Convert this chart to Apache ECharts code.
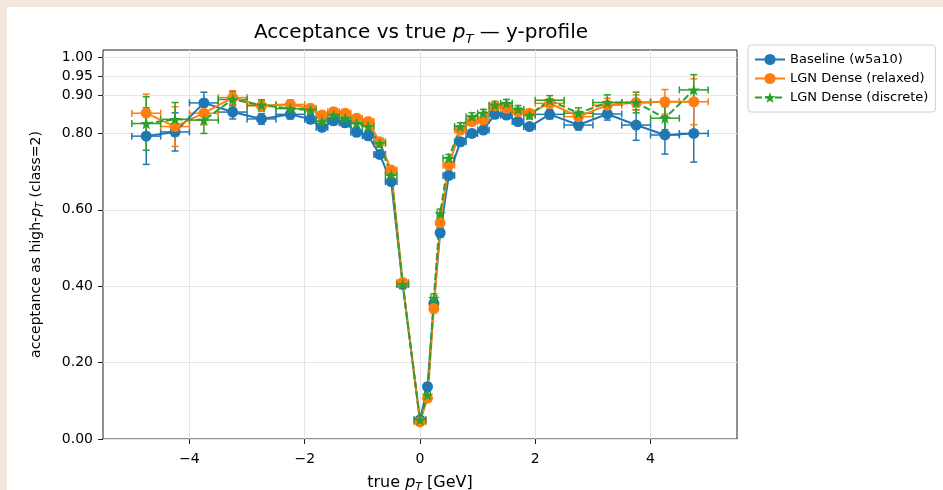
<!DOCTYPE html>
<html>
<head>
<meta charset="utf-8">
<script src="https://cdn.jsdelivr.net/npm/echarts@6/dist/echarts.min.js"></script>
<style>
html,body{margin:0;padding:0;background:#fff;}
#c{width:943px;height:490px;}
</style>
</head>
<body>
<div id="c"></div>
<script>
// ---- data ----
const xCenters = [-4.75,-4.25,-3.75,-3.25,-2.75,-2.25,-1.9,-1.7,-1.5,-1.3,-1.1,-0.9,-0.7,-0.5,-0.3,0.0,0.13,0.24,0.35,0.5,0.7,0.9,1.1,1.3,1.5,1.7,1.9,2.25,2.75,3.25,3.75,4.25,4.75];
const xErr = [0.25,0.25,0.25,0.25,0.25,0.25,0.1,0.1,0.1,0.1,0.1,0.1,0.1,0.1,0.1,0.1,0.05,0.05,0.05,0.1,0.1,0.1,0.1,0.1,0.1,0.1,0.1,0.25,0.25,0.25,0.25,0.25,0.25];

const baselineY = [0.793,0.804,0.880,0.856,0.838,0.850,0.837,0.816,0.833,0.828,0.803,0.794,0.745,0.674,0.405,0.050,0.137,0.355,0.540,0.690,0.778,0.800,0.809,0.850,0.848,0.831,0.818,0.850,0.822,0.851,0.822,0.796,0.800];
const baselineErr = [0.074,0.050,0.028,0.018,0.014,0.012,0.010,0.010,0.010,0.010,0.010,0.010,0.010,0.010,0.010,0.008,0.010,0.012,0.012,0.010,0.010,0.010,0.010,0.010,0.010,0.010,0.010,0.012,0.013,0.016,0.040,0.050,0.075];

const relaxedY = [0.853,0.818,0.853,0.894,0.872,0.876,0.866,0.848,0.857,0.853,0.840,0.831,0.778,0.704,0.410,0.045,0.107,0.342,0.566,0.717,0.809,0.831,0.835,0.872,0.866,0.857,0.853,0.879,0.844,0.874,0.881,0.883,0.883];
const relaxedErr = [0.050,0.052,0.030,0.018,0.014,0.012,0.010,0.010,0.010,0.010,0.010,0.010,0.010,0.010,0.010,0.008,0.010,0.012,0.012,0.010,0.010,0.010,0.010,0.010,0.010,0.010,0.010,0.012,0.014,0.018,0.020,0.032,0.060];

const discreteY = [0.826,0.837,0.835,0.889,0.874,0.865,0.861,0.831,0.848,0.840,0.826,0.818,0.774,0.691,0.405,0.050,0.115,0.368,0.590,0.735,0.818,0.844,0.853,0.874,0.879,0.863,0.848,0.887,0.853,0.881,0.881,0.840,0.914];
const discreteErr = [0.070,0.044,0.035,0.020,0.014,0.012,0.010,0.010,0.010,0.010,0.010,0.010,0.010,0.010,0.010,0.008,0.010,0.012,0.012,0.010,0.010,0.010,0.010,0.010,0.010,0.010,0.010,0.012,0.014,0.020,0.027,0.030,0.040];

const yTicks = [0, 0.2, 0.4, 0.6, 0.8, 0.9, 0.95, 1.0];
const xTicks = [-4, -2, 0, 2, 4];
const seriesNames = ['Baseline (w5a10)', 'LGN Dense (relaxed)', 'LGN Dense (discrete)'];

// ---- styles ----
const colors = ['#1f77b4', '#ff7f0e', '#2ca02c'];
const starPath = 'path://M0,-10 L2.35,-3.24 L9.51,-3.09 L3.80,1.24 L5.88,8.09 L0,4 L-5.88,8.09 L-3.80,1.24 L-9.51,-3.09 L-2.35,-3.24 Z';
const FONT = 'DejaVu Sans';

function errSeries(name, ys, errs, color) {
  const data = xCenters.map((x, i) => [x, ys[i], errs[i], xErr[i]]);
  return {
    type: 'custom', name: name + '_err', data: data,
    encode: {x: 0, y: 1}, silent: true, z: 2,
    renderItem: function (params, api) {
      const x = api.value(0), y = api.value(1), ye = api.value(2), xe = api.value(3);
      const p0 = api.coord([x, y - ye]), p1 = api.coord([x, y + ye]);
      const q0 = api.coord([x - xe, y]), q1 = api.coord([x + xe, y]);
      const c = 3.5;
      const st = {stroke: color, lineWidth: 1.5};
      const L = (a, b, cc, d) => ({type: 'line', shape: {x1: a, y1: b, x2: cc, y2: d}, style: st});
      return {type: 'group', children: [
        L(p0[0], p0[1], p1[0], p1[1]),
        L(p0[0] - c, p0[1], p0[0] + c, p0[1]),
        L(p1[0] - c, p1[1], p1[0] + c, p1[1]),
        L(q0[0], q0[1], q1[0], q1[1]),
        L(q0[0], q0[1] - c, q0[0], q0[1] + c),
        L(q1[0], q1[1] - c, q1[0], q1[1] + c)
      ]};
    }
  };
}
function lineSeries(name, ys, color, symbol, size, dashed) {
  return {
    type: 'line', name: name, data: xCenters.map((x, i) => [x, ys[i]]),
    symbol: symbol, symbolSize: size, symbolKeepAspect: true, showAllSymbol: true,
    lineStyle: {color: color, width: 2, type: dashed ? [7, 3] : 'solid'},
    itemStyle: {color: color, borderWidth: 0}, z: 3, animation: false
  };
}

const fmtX = v => v < 0 ? '\u2212' + Math.abs(v) : String(v);

const chart = echarts.init(document.getElementById('c'), null, {renderer: 'canvas'});
chart.setOption({
  animation: false,
  backgroundColor: '#ffffff',
  textStyle: {fontFamily: FONT},
  grid: {left: 103, top: 50, width: 634, height: 389, show: true, borderColor: '#222', borderWidth: 1, backgroundColor: '#fff',
         containLabel: false, outerBoundsMode: 'none'},
  xAxis: {
    type: 'value', min: -5.5, max: 5.5,
    name: '{a|true }{i|p}{s|T}{a| [GeV]}', nameLocation: 'middle', nameGap: 34,
    nameTextStyle: {rich: {
      a: {fontFamily: FONT, fontSize: 16, color: '#000', lineHeight: 20},
      i: {fontFamily: FONT, fontSize: 16, fontStyle: 'italic', color: '#000', lineHeight: 20},
      s: {fontFamily: FONT, fontSize: 11, fontStyle: 'italic', color: '#000', verticalAlign: 'bottom', lineHeight: 14}
    }},
    axisLine: {show: false, onZero: false},
    axisTick: {show: true, length: 5, inside: false, lineStyle: {color: '#222'}, customValues: xTicks},
    axisLabel: {customValues: xTicks, formatter: fmtX, fontFamily: FONT, fontSize: 14, color: '#000', margin: 13},
    splitLine: {show: true, lineStyle: {color: '#e6e6e6', width: 1}}
  },
  yAxis: {
    type: 'value', min: 0, max: 1.0185,
    name: '{a|acceptance as high-}{i|p}{s|T}{a| (class=2)}', nameLocation: 'middle', nameGap: 58, nameRotate: 90,
    nameTextStyle: {rich: {
      a: {fontFamily: FONT, fontSize: 14, color: '#000', lineHeight: 18},
      i: {fontFamily: FONT, fontSize: 14, fontStyle: 'italic', color: '#000', lineHeight: 18},
      s: {fontFamily: FONT, fontSize: 10, fontStyle: 'italic', color: '#000', verticalAlign: 'bottom', lineHeight: 12}
    }},
    axisLine: {show: false, onZero: false},
    axisTick: {show: true, length: 5, inside: false, lineStyle: {color: '#222'}, customValues: yTicks},
    axisLabel: {customValues: yTicks, formatter: v => v.toFixed(2), fontFamily: FONT, fontSize: 14, color: '#000', margin: 10},
    splitLine: {show: true, lineStyle: {color: '#e6e6e6', width: 1}}
  },
  legend: {
    orient: 'vertical', left: 748, top: 45,
    data: seriesNames,
    padding: [8, 7, 8, 6], itemGap: 6, itemWidth: 30, itemHeight: 14,
    backgroundColor: '#fff', borderColor: '#d0d0d0', borderWidth: 1, borderRadius: 3,
    textStyle: {fontFamily: FONT, fontSize: 13, color: '#000'}
  },
  graphic: [
    {type: 'rect', shape: {x: 0, y: 0, width: 943, height: 7}, style: {fill: '#f3e6dc'}, z: 100},
    {type: 'rect', shape: {x: 0, y: 0, width: 7, height: 490}, style: {fill: '#f3e6dc'}, z: 100},
    {type: 'text', x: 421, y: 33, z: 50,
     style: {
       text: '{a|Acceptance vs true }{i|p}{s|T}{a| \u2014 y-profile}',
       textAlign: 'center', textVerticalAlign: 'middle', align: 'center', verticalAlign: 'middle',
       rich: {
         a: {fontFamily: FONT, fontSize: 20, fill: '#000', lineHeight: 26},
         i: {fontFamily: FONT, fontSize: 20, fontStyle: 'italic', fill: '#000', lineHeight: 26},
         s: {fontFamily: FONT, fontSize: 13, fontStyle: 'italic', fill: '#000', verticalAlign: 'bottom', lineHeight: 17}
       }
     }}
  ],
  series: [
    errSeries(seriesNames[0], baselineY, baselineErr, colors[0]),
    lineSeries(seriesNames[0], baselineY, colors[0], 'circle', 11, false),
    errSeries(seriesNames[1], relaxedY, relaxedErr, colors[1]),
    lineSeries(seriesNames[1], relaxedY, colors[1], 'circle', 11, false),
    errSeries(seriesNames[2], discreteY, discreteErr, colors[2]),
    lineSeries(seriesNames[2], discreteY, colors[2], starPath, 12, true)
  ]
});
</script>
</body>
</html>
